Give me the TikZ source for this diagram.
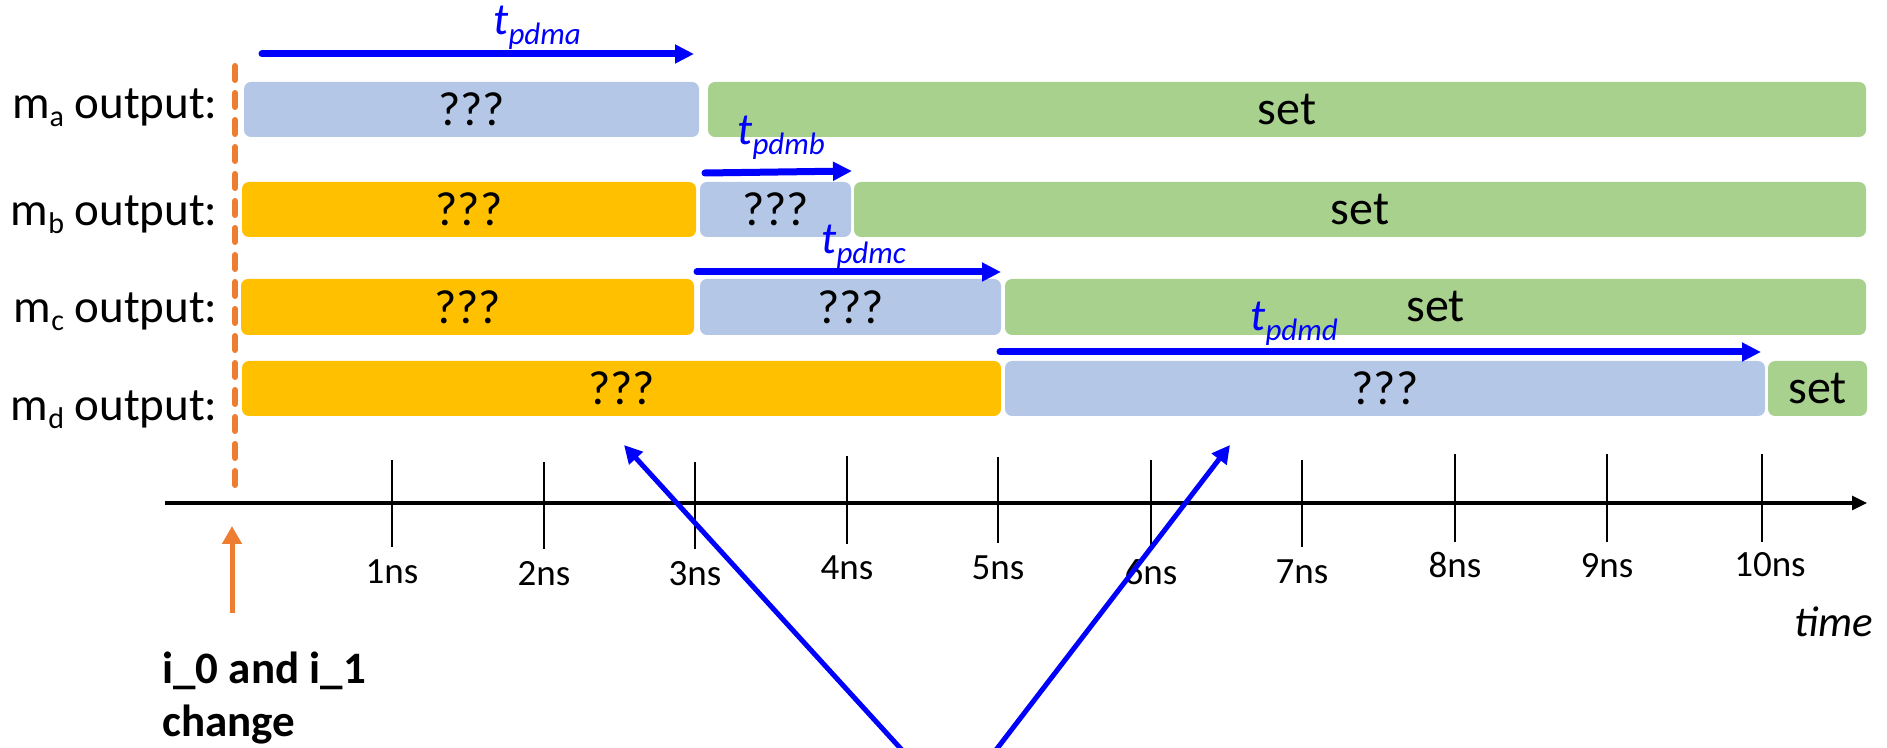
\documentclass[tikz,border=0pt]{standalone}
\usepackage{fontspec}
\setmainfont{Carlito}
\usetikzlibrary{arrows.meta,fit}
\definecolor{segblue}{HTML}{B4C7E7}
\definecolor{seggreen}{HTML}{A9D18E}
\definecolor{segorange}{HTML}{FFC000}
\definecolor{evorange}{HTML}{ED7D31}
\definecolor{tpblue}{HTML}{0000FF}
\newcommand\lsub[1]{\raisebox{-4pt}{\fontsize{15}{15}\selectfont #1}}
\newcommand\tpd[1]{\textit{t}\raisebox{-5pt}{\fontsize{15.5}{15.5}\selectfont\itshape #1}}
\tikzset{
  seg/.style={rounded corners=3.5pt, inner sep=0pt},
  ublue/.style={seg, fill=segblue},
  ugreen/.style={seg, fill=seggreen},
  uorange/.style={seg, fill=segorange},
  segtxt/.style={inner sep=0pt, font=\fontsize{24}{28}\selectfont},
  rowlbl/.style={anchor=base east, inner sep=0pt, font=\fontsize{23.5}{28}\selectfont},
  tickline/.style={line width=1pt},
  ticklbl/.style={inner sep=0pt, font=\fontsize{18.5}{20}\selectfont},
  tpdarrow/.style={draw=tpblue, line width=3.5pt, line cap=round, -{Triangle[length=9.5pt,width=9pt]}},
  tplab/.style={anchor=base west, inner sep=0pt, text=tpblue, font=\fontsize{22.5}{24}\selectfont},
  axisline/.style={line width=1.6pt, -{Triangle[length=7.5pt,width=7pt]}},
  eventline/.style={draw=evorange, line width=3pt, line cap=round, dash pattern=on 7pt off 6.5pt},
  eventarrow/.style={draw=evorange, line width=2.5pt, -{Triangle[length=9pt,width=9.5pt]}},
  pointer/.style={draw=tpblue, line width=2.5pt, -{Triangle[length=9pt,width=9pt]}},
}
\begin{document}
\begin{tikzpicture}[x=0.5pt,y=-0.5pt]
\useasboundingbox (0,0) rectangle (1887,748);
\clip (0,0) rectangle (1887,748);

% row labels
\node[rowlbl] (la) at (218,119) {m\lsub{a} output:};
\node[rowlbl] (lb) at (218,226) {m\lsub{b} output:};
\node[rowlbl] (lc) at (218,323) {m\lsub{c} output:};
\node[rowlbl] (ld) at (218,421) {m\lsub{d} output:};

% row a
\node[ublue, fit={(244,82)(699,137)}] (a1) {};
\node[ugreen, fit={(708,82)(1866,137)}] (a2) {};
% row b
\node[uorange, fit={(242,182)(696,237)}] (b1) {};
\node[ublue, fit={(700,182)(851,237)}] (b2) {};
\node[ugreen, fit={(854,182)(1866,237)}] (b3) {};
% row c
\node[uorange, fit={(241,279)(694,335)}] (c1) {};
\node[ublue, fit={(700,279)(1001,335)}] (c2) {};
\node[ugreen, fit={(1005,279)(1866,335)}] (c3) {};
% row d
\node[uorange, fit={(242,361)(1001,416)}] (d1) {};
\node[ublue, fit={(1005,361)(1765,416)}] (d2) {};
\node[ugreen, fit={(1768,361)(1867,416)}] (d3) {};

% segment texts
\node[segtxt] (a1t) at (a1.center) {???};
\node[segtxt] (a2t) at (a2.center) {set};
\node[segtxt] (b1t) at (b1.center) {???};
\node[segtxt] (b2t) at (b2.center) {???};
\node[segtxt] (b3t) at (b3.center) {set};
\node[segtxt] (c1t) at (c1.center) {???};
\node[segtxt] (c2t) at (c2.center) {???};
\node[segtxt] (c3t) at (c3.center) {set};
\node[segtxt] (d1t) at (d1.center) {???};
\node[segtxt] (d2t) at (d2.center) {???};
\node[segtxt] (d3t) at (d3.center) {set};

% propagation delay arrows
\coordinate (pa0) at (262,54);  \coordinate (pa1) at (694,54);
\coordinate (pb0) at (705,173); \coordinate (pb1) at (852,171);
\coordinate (pc0) at (697,272); \coordinate (pc1) at (1001,272);
\coordinate (pd0) at (1000,352); \coordinate (pd1) at (1761,352);
\draw[tpdarrow] (pa0) -- (pa1);
\draw[tpdarrow] (pb0) -- (pb1);
\draw[tpdarrow] (pc0) -- (pc1);
\draw[tpdarrow] (pd0) -- (pd1);
\node[tplab] (ta) at (493,35) {\tpd{pdma}};
\node[tplab] (tb) at (737,145) {\tpd{pdmb}};
\node[tplab] (tc) at (821,254) {\tpd{pdmc}};
\node[tplab] (td) at (1250,331) {\tpd{pdmd}};

% event line
\coordinate (ev0) at (235,66);
\coordinate (ev1) at (235,490);
\draw[eventline] (ev0) -- (ev1);

% time axis
\coordinate (ax0) at (165,503);
\coordinate (ax1) at (1867,503);
\draw[axisline] (ax0) -- (ax1);
\draw[tickline] (392,460) -- (392,547);
\draw[tickline] (544,462) -- (544,549);
\draw[tickline] (695,462) -- (695,549);
\draw[tickline] (847,456) -- (847,544);
\draw[tickline] (998,457) -- (998,543);
\draw[tickline] (1151,460) -- (1151,547);
\draw[tickline] (1302,460) -- (1302,547);
\draw[tickline] (1455,454) -- (1455,542);
\draw[tickline] (1607,454) -- (1607,542);
\draw[tickline] (1762,454) -- (1762,542);
\node[ticklbl] (n1) at (392,572) {1ns};
\node[ticklbl] (n2) at (544,574) {2ns};
\node[ticklbl] (n3) at (695,574) {3ns};
\node[ticklbl] (n4) at (847,568) {4ns};
\node[ticklbl] (n5) at (998,568) {5ns};
\node[ticklbl] (n6) at (1151,572) {6ns};
\node[ticklbl] (n7) at (1302,572) {7ns};
\node[ticklbl] (n8) at (1455,565) {8ns};
\node[ticklbl] (n9) at (1607,566) {9ns};
\node[ticklbl] (n10) at (1770,565) {10ns};
\node[anchor=base east, inner sep=0pt, font=\fontsize{21.5}{24}\selectfont\itshape] (tm) at (1873,637) {time};

% input change
\coordinate (ch0) at (232,613);
\coordinate (ch1) at (232,526);
\draw[eventarrow] (ch0) -- (ch1);
\node[anchor=north west, inner sep=0pt, align=left, font=\fontsize{22.5}{26.5}\selectfont\bfseries] (chg) at (162,652) {i\_0 and i\_1\\change};

% pointer arrows from below
\coordinate (src) at (953,806);
\coordinate (tipL) at (624,445);
\coordinate (tipR) at (1230,445);
\draw[pointer] (src) -- (tipL);
\draw[pointer] (src) -- (tipR);
\end{tikzpicture}
\end{document}
